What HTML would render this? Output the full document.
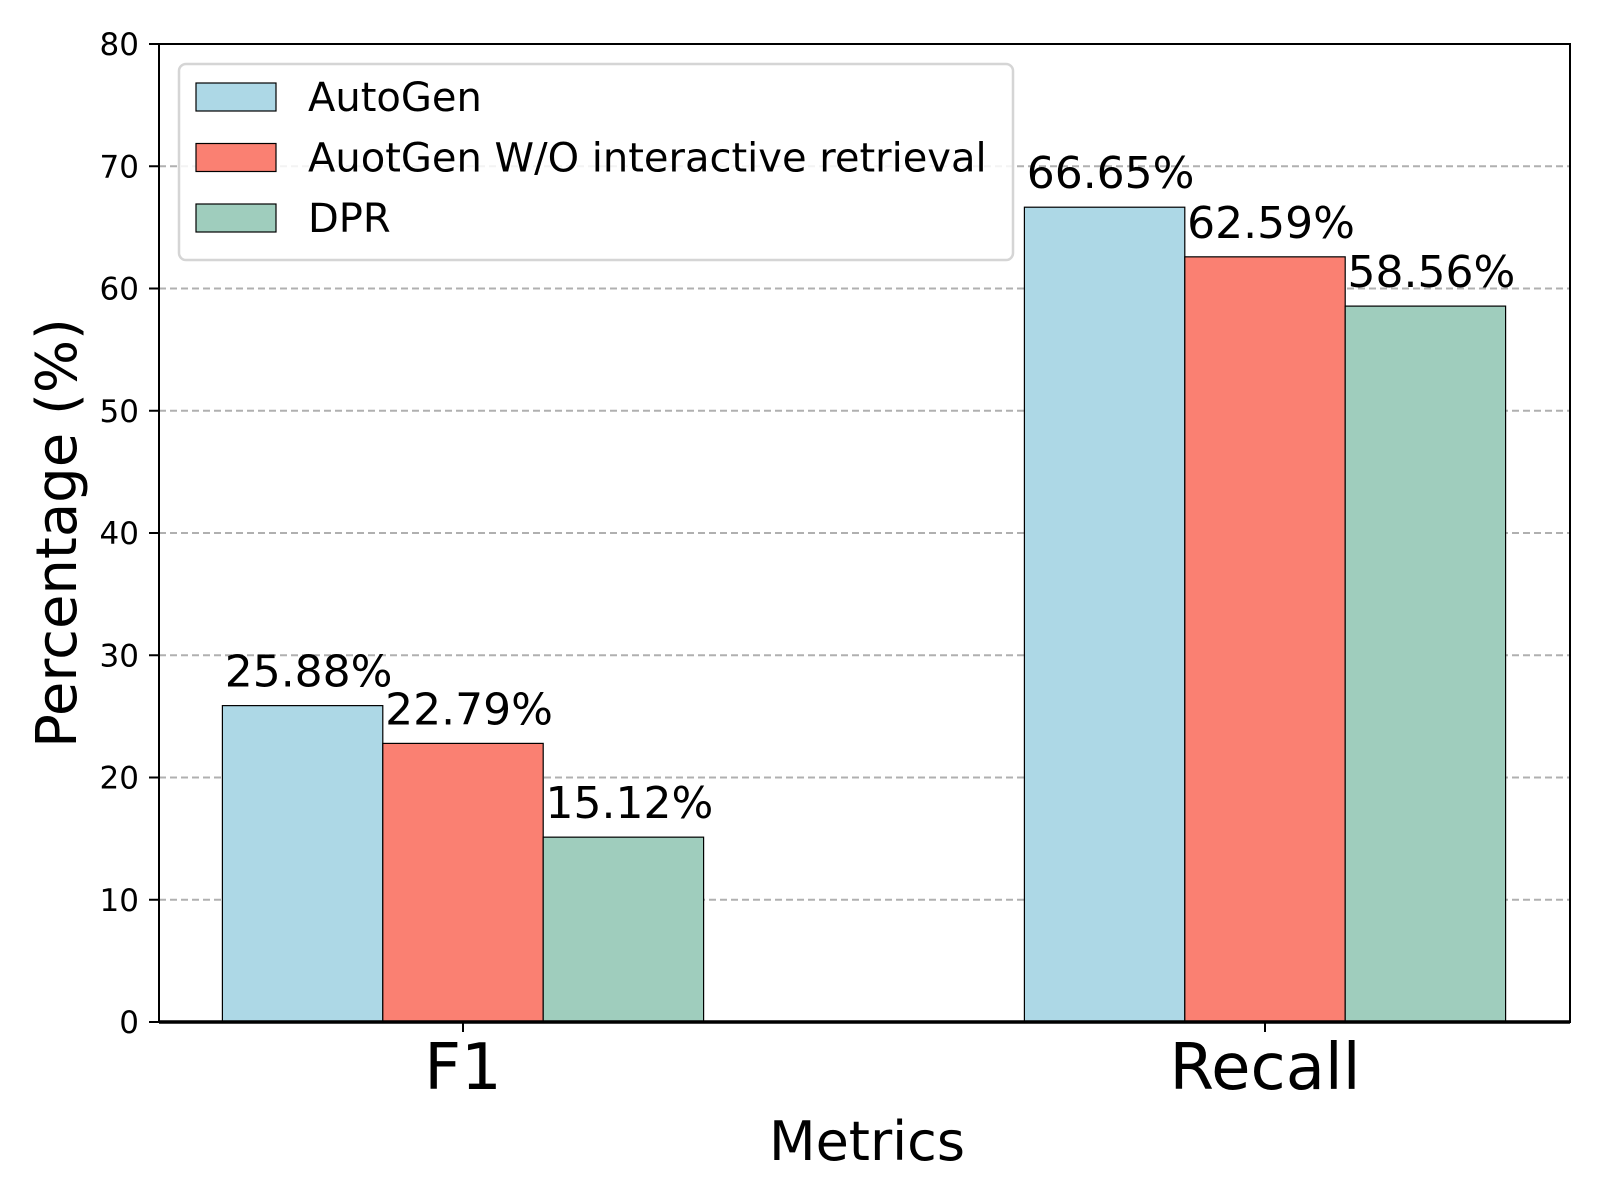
<!DOCTYPE html>
<html><head><meta charset="utf-8"><style>
body{margin:0;background:#fff}
svg{display:block;font-family:"DejaVu Sans","Liberation Sans",sans-serif}
</style></head><body>
<svg id="chart" width="1600" height="1200" viewBox="0 0 1600 1200">
<g id="grid"></g>
<g id="bars"></g>
<g id="axes"></g>
<g id="legend"></g>
</svg>
<script>
const categories = ["F1", "Recall"];
const seriesNames = ["AutoGen", "AuotGen W/O interactive retrieval", "DPR"];
const autogenValues = [25.88, 66.65];
const noRetrievalValues = [22.79, 62.59];
const dprValues = [15.12, 58.56];
const yTicks = [0, 10, 20, 30, 40, 50, 60, 70, 80];
const colors = ["#add8e6", "#fa8072", "#9fcdbd"];
const series = [autogenValues, noRetrievalValues, dprValues];

const NS = "http://www.w3.org/2000/svg";
const L = 159, R = 1570, T = 44, B = 1022, yMax = 80;
const catStart = 463, catStep = 802, barW = 160.4;
const yPos = v => B - (v / yMax) * (B - T);
const xCenter = i => catStart + catStep * i;
function mk(tag, attrs, parent, text) {
  const e = document.createElementNS(NS, tag);
  for (const k in attrs) e.setAttribute(k, attrs[k]);
  if (text !== undefined) e.textContent = text;
  parent.appendChild(e);
  return e;
}
const grid = document.getElementById("grid"), bars = document.getElementById("bars"),
      axes = document.getElementById("axes"), legend = document.getElementById("legend");

yTicks.forEach(t => {
  const y = yPos(t);
  if (t > 0 && t < yMax) {
    const g = mk("line", {x1: L, x2: R, y1: y, y2: y, stroke: "#b0b0b0", "stroke-width": 2, "stroke-dasharray": "7,4"}, grid);
    
    
  }
  const tk = mk("line", {x1: L - 10, x2: L, y1: y, y2: y, stroke: "#000", "stroke-width": 2}, axes);
  
  
  const lb = mk("text", {x: 139, y: y + 11, "text-anchor": "end", "font-size": 31}, axes, String(t));
  
  
});

series.forEach((vals, j) => {
  vals.forEach((v, i) => {
    const x = xCenter(i) + (j - 1.5) * barW;
    const r = mk("rect", {x: x, y: yPos(v), width: barW, height: B - yPos(v), fill: colors[j], stroke: "#000", "stroke-width": 1.2}, bars);
    
    
    const t = mk("text", {x: x + barW / 2 + 6, y: yPos(v) - 19, "text-anchor": "middle", "font-size": 44}, bars, v.toFixed(2) + "%");
    
    
  });
});

categories.forEach((c, i) => {
  const tk = mk("line", {x1: xCenter(i), x2: xCenter(i), y1: B, y2: B + 10, stroke: "#000", "stroke-width": 2}, axes);
  
  
  const t = mk("text", {x: xCenter(i), y: 1089, "text-anchor": "middle", "font-size": 64}, axes, c);
  
  
});

const frame = mk("rect", {x: L, y: T, width: R - L, height: B - T, fill: "none", stroke: "#000", "stroke-width": 2}, axes);


const base = mk("line", {x1: L, x2: R, y1: B, y2: B, stroke: "#000", "stroke-width": 3.5}, axes);



const xt = mk("text", {x: 867, y: 1160, "text-anchor": "middle", "font-size": 54}, axes, "Metrics");


const yt = mk("text", {x: 0, y: 0, "text-anchor": "middle", "font-size": 56, transform: "translate(76,533) rotate(-90)"}, axes, "Percentage (%)");



const lbox = mk("rect", {x: 179, y: 64, width: 834, height: 196, rx: 7, fill: "#fff", "fill-opacity": 0.85, stroke: "#d5d5d5", "stroke-width": 2.5}, legend);


seriesNames.forEach((n, j) => {
  const y = 83 + j * 60.5;
  const s = mk("rect", {x: 196, y: y, width: 80, height: 28, fill: colors[j], stroke: "#000", "stroke-width": 1.2}, legend);
  
  
  const t = mk("text", {x: 308, y: y + 28, "font-size": 40}, legend, n);
  
  
});
</script>
</body></html>
